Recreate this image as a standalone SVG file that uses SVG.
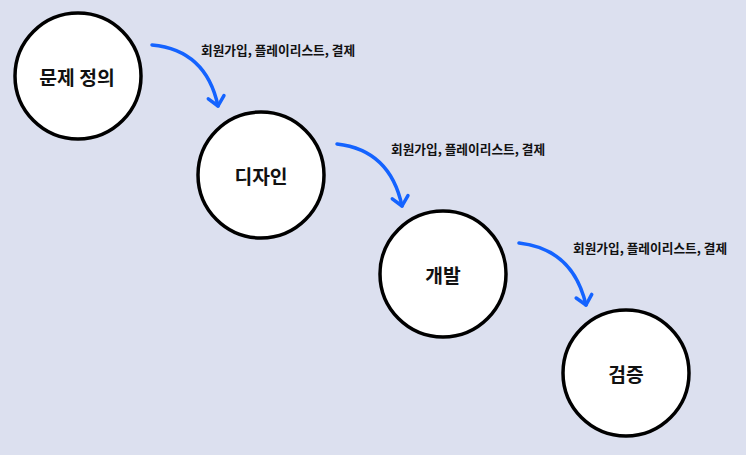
<svg xmlns="http://www.w3.org/2000/svg" width="746" height="455" viewBox="0 0 746 455">
<style>
.node circle{fill:#fff;stroke:#000;stroke-width:3.5}
.node text{font-family:"Noto Sans CJK KR","Noto Sans",sans-serif;font-weight:700;font-size:19.3px;fill:#111;text-anchor:middle;dominant-baseline:central}
.edge{fill:none;stroke:#1463ff;stroke-width:3.5;stroke-linecap:round;marker-end:url(#chev)}
.lbl{font-family:"Noto Sans CJK KR","Noto Sans",sans-serif;font-weight:700;font-size:12.7px;fill:#111}
</style>
<defs>
<marker id="chev" markerUnits="userSpaceOnUse" viewBox="-14 -12 18 24" refX="0" refY="0" markerWidth="18" markerHeight="24" orient="auto" overflow="visible">
<path d="M-9,-8 L0,0 L-9,8" fill="none" stroke="#1463ff" stroke-width="3.5" stroke-linecap="round" stroke-linejoin="round"/>
</marker>
</defs>
<rect width="746" height="455" fill="#dce0ef"/>
<g id="connectors">
<path class="edge" d="M152,45 Q206,50 218,106"/>
<path class="edge" d="M337,144 Q390,150 402,206"/>
<path class="edge" d="M519,243 Q573,249 586,305"/>
<text class="lbl" x="201" y="54.5">회원가입, 플레이리스트, 결제</text>
<text class="lbl" x="391" y="153.5">회원가입, 플레이리스트, 결제</text>
<text class="lbl" x="573" y="253">회원가입, 플레이리스트, 결제</text>
</g>
<g id="n1" class="node"><circle cx="78" cy="76" r="63"/><text x="77" y="77">문제 정의</text></g>
<g id="n2" class="node"><circle cx="261" cy="175" r="63"/><text x="261" y="176">디자인</text></g>
<g id="n3" class="node"><circle cx="443" cy="274" r="63"/><text x="443" y="275">개발</text></g>
<g id="n4" class="node"><circle cx="626" cy="373" r="63"/><text x="626" y="374">검증</text></g>
</svg>
